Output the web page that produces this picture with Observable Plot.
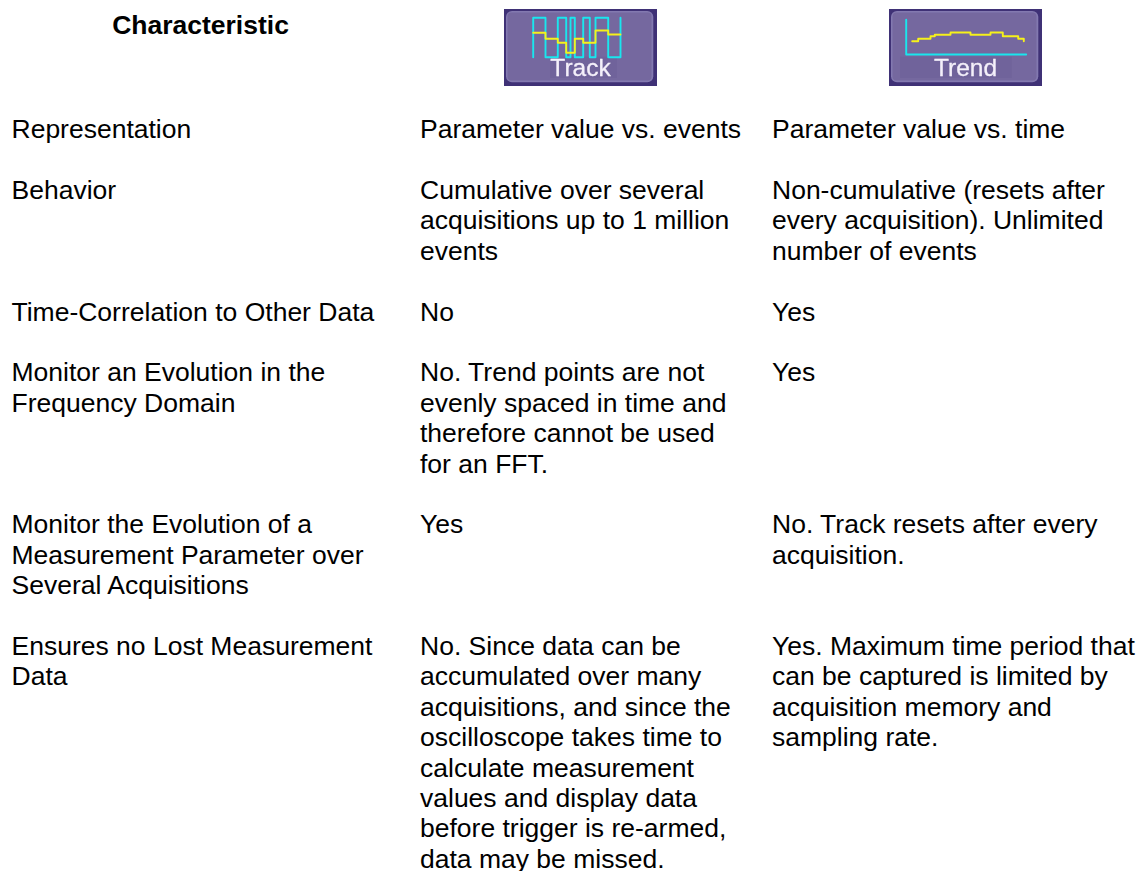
<!DOCTYPE html>
<html>
<head>
<meta charset="utf-8">
<script src="https://cdn.jsdelivr.net/npm/d3@7"></script>
<script src="https://cdn.jsdelivr.net/npm/@observablehq/plot@0.6"></script>
<style>
html, body { margin: 0; padding: 0; background: #fff; }
svg { display: block; }
.soft { filter: blur(0.5px); }
.softtext { filter: blur(0.6px); }
</style>
</head>
<body>
<div id="chart"></div>
<script>
const headerLabel = "Characteristic";
const buttonLabels = ["Track", "Trend"];

const characteristics = [
  ["Representation"],
  ["Behavior"],
  ["Time-Correlation to Other Data"],
  ["Monitor an Evolution in the", "Frequency Domain"],
  ["Monitor the Evolution of a", "Measurement Parameter over", "Several Acquisitions"],
  ["Ensures no Lost Measurement", "Data"]
];
const trackCells = [
  ["Parameter value vs. events"],
  ["Cumulative over several", "acquisitions up to 1 million", "events"],
  ["No"],
  ["No. Trend points are not", "evenly spaced in time and", "therefore cannot be used", "for an FFT."],
  ["Yes"],
  ["No. Since data can be", "accumulated over many", "acquisitions, and since the", "oscilloscope takes time to", "calculate measurement", "values and display data", "before trigger is re-armed,", "data may be missed."]
];
const trendCells = [
  ["Parameter value vs. time"],
  ["Non-cumulative (resets after", "every acquisition). Unlimited", "number of events"],
  ["Yes"],
  ["Yes"],
  ["No. Track resets after every", "acquisition."],
  ["Yes. Maximum time period that", "can be captured is limited by", "acquisition memory and", "sampling rate."]
];

// icon glyph traces, in pixels inside a button
const trackPulseX = [28.7, 28.7, 41, 53.3, 61.7, 66, 70.3, 78.7, 85.3, 91, 103.7, 116];
const trackPulseY = [47.7, 8.3, 47.7, 8.3, 47.7, 8.3, 47.7, 8.3, 47.7, 8.3, 47.7, 8.3];
const trackLevelX = [28.7, 41, 53.3, 61.7, 70.3, 78.7, 91, 103.7, 116];
const trackLevelY = [23.3, 29.3, 33.3, 43.3, 29.3, 33.3, 21, 25, 25];
const trendAxisX = [16.7, 16.7, 136.7];
const trendAxisY = [10.3, 45, 45];
const trendLevelX = [22.7, 28.7, 41, 45.3, 61, 81, 101, 113.3, 128.7, 134.3];
const trendLevelY = [31.7, 29.3, 26.7, 25.3, 23, 25.3, 23, 26.7, 29.3, 31.7];

// layout
const L = {
  w: 1139, h: 871, font: 26.5, lineH: 30.4, firstBase: 137.7, headBase: 33,
  cols: [11, 419.5, 771.5], headX: 200,
  btnTop: 9, btnW: 153, btnH: 77, btnLeft: [504, 889],
  patch: [[46, 113], [11, 122.7]]
};

const columns = [characteristics, trackCells, trendCells];
const textRows = [];
let line = 0;
characteristics.forEach((_, r) => {
  columns.forEach((col, c) => {
    col[r].forEach((text, k) => textRows.push({col: c, line: line + k, text}));
  });
  line += Math.max(...columns.map(col => col[r].length)) + 1;
});

const pts = (xs, ys, ox) => xs.map((x, i) => ({x: ox + x, y: L.btnTop + ys[i]}));
const buttons = L.btnLeft.map((x, i) => ({x, i, label: buttonLabels[i]}));
const inset = (a, b, fill, rx, extra = {}) => Plot.rect(buttons, {
  x1: d => d.x + a, x2: d => d.x + L.btnW - b,
  y1: L.btnTop + a, y2: L.btnTop + L.btnH - b,
  fill, rx, ...extra
});

const chart = Plot.plot({
  width: L.w, height: L.h, margin: 0,
  x: {type: "identity"}, y: {type: "identity"},
  axis: null,
  style: {background: "#fff", fontFamily: "'Liberation Sans', Arial, sans-serif"},
  marks: [
    Plot.text([headerLabel], {
      x: L.headX, y: L.headBase, text: d => d, lineAnchor: "bottom", textAnchor: "middle",
      fontSize: L.font, fontWeight: "bold", fill: "#000"
    }),
    Plot.text(textRows, {
      x: d => L.cols[d.col], y: d => L.firstBase + d.line * L.lineH,
      text: "text", lineAnchor: "bottom", textAnchor: "start",
      fontSize: L.font, fill: "#000"
    }),
    inset(0, 0, "#3f3176", 0),
    inset(2, 3.7, "#8379b0", 6, {className: "soft"}),
    inset(3.5, 5.5, "#75689f", 4, {className: "soft"}),
    Plot.rect(buttons, {
      x1: d => d.x + L.patch[d.i][0], x2: d => d.x + L.patch[d.i][1],
      y1: L.btnTop + 47.7, y2: L.btnTop + 69, fill: "#70639b", className: "soft"
    }),
    Plot.line(pts(trackPulseX, trackPulseY, L.btnLeft[0]), {x: "x", y: "y", stroke: "#19e6ee", strokeWidth: 1.9, curve: "step-after", className: "soft"}),
    Plot.line(pts(trackLevelX, trackLevelY, L.btnLeft[0]), {x: "x", y: "y", stroke: "#f6f11a", strokeWidth: 1.9, curve: "step-after", className: "soft"}),
    Plot.line(pts(trendAxisX, trendAxisY, L.btnLeft[1]), {x: "x", y: "y", stroke: "#19e6ee", strokeWidth: 1.9, className: "soft"}),
    Plot.line(pts(trendLevelX, trendLevelY, L.btnLeft[1]), {x: "x", y: "y", stroke: "#f6f11a", strokeWidth: 1.9, curve: "step-after", className: "soft"}),
    Plot.text(buttons, {
      x: d => d.x + 76, y: L.btnTop + 66,
      text: "label", lineAnchor: "bottom", textAnchor: "middle",
      fontSize: 24.5, fill: "#f4f0fa", stroke: "#f4f0fa", strokeWidth: 0.3, className: "softtext"
    })
  ]
});
document.getElementById("chart").append(chart);
</script>
</body>
</html>
